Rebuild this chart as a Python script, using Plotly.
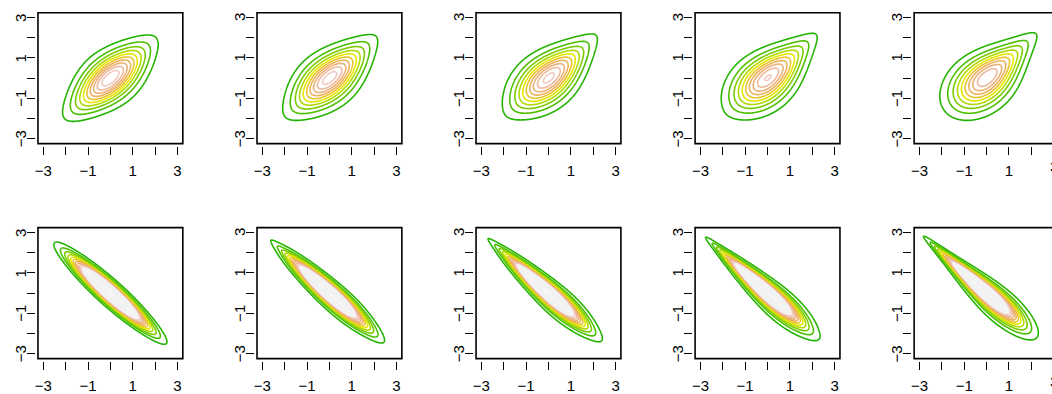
import math
import numpy as np
import plotly.graph_objects as go

# ---------------- data ----------------
# each panel: mixture of a t copula and a Gumbel copula, standard normal margins
# weight of the Gumbel part grows from left to right; bottom row is x-reflected
gumbel_weight = [0.0, 0.3, 0.55, 0.8, 1.0]
t_rho = [0.60, 0.94]           # top row, bottom row (bottom row reflected -> negative)
t_nu = [6, 30]
gumbel_theta = [1.55, 3.8]
reflect_rows = [False, True]

level_start, level_end, level_step = 0.02, 0.50, 0.02
terrain = ["#00A600", "#24B300", "#4CBF00", "#7ACC00", "#ADD900", "#E6E600",
           "#E8C32E", "#EBB25E", "#ECB176", "#EEB99F", "#F0C9C0", "#F2F2F2"]

tick_vals = [-3, -2, -1, 0, 1, 2, 3]
tick_text = ["\u22123", "", "\u22121", "", "1", "", "3"]
ylab_vals = [-3, -1, 1, 3]
ylab_text = ["\u22123", "\u22121", "1", "3"]

# ---------------- density helpers ----------------
_erfc = np.vectorize(math.erfc)


def Phi(t):
    return 0.5 * _erfc(-t / math.sqrt(2.0))


def phi(t):
    return np.exp(-0.5 * t * t) / math.sqrt(2 * math.pi)


def t_cdf_even(t, nu):
    x = t / np.sqrt(nu + t * t)
    s = np.zeros_like(t)
    for j in range(nu // 2):
        coef = math.factorial(2 * j) / (4 ** j * math.factorial(j) ** 2)
        s = s + coef * (1 - x * x) ** j
    return 0.5 + 0.5 * x * s


def t_pdf(t, nu):
    c = math.gamma((nu + 1) / 2) / (math.gamma(nu / 2) * math.sqrt(nu * math.pi))
    return c * (1 + t * t / nu) ** (-(nu + 1) / 2)


def t_copula(u, v, rho, nu):
    tg = np.linspace(-40, 40, 400001)
    Fg = t_cdf_even(tg, nu)
    a = np.interp(u, Fg, tg)
    b = np.interp(v, Fg, tg)
    q = (a * a - 2 * rho * a * b + b * b) / (1 - rho * rho)
    c2 = math.gamma((nu + 2) / 2) / (math.gamma(nu / 2) * nu * math.pi * math.sqrt(1 - rho * rho))
    f2 = c2 * (1 + q / nu) ** (-(nu + 2) / 2)
    return f2 / (t_pdf(a, nu) * t_pdf(b, nu))


def gumbel_copula(u, v, th):
    lu, lv = -np.log(u), -np.log(v)
    A = lu ** th + lv ** th
    C = np.exp(-A ** (1.0 / th))
    return C / (u * v) * (lu * lv) ** (th - 1) * A ** (-2 + 2.0 / th) * (1 + (th - 1) * A ** (-1.0 / th))


grid = np.linspace(-3.4, 3.4, 341)
GX, GY = np.meshgrid(grid, grid)

span = level_end - level_start
cscale = []
for k in range(11):
    lev = level_start + k * level_step
    cscale.append([(lev - level_start) / span, terrain[k + 1]])
cscale.append([1.0, terrain[-1]])

# ---------------- layout geometry ----------------
W, H = 1052, 394
box_left0, box_w, col_step = 37.0, 145.0, 219.25
row_box_top = [13.0, 233.0]
box_h = 134.0
gap = 2.0
box_half = 3.24
xpu = box_w / (2 * box_half)
ypu = box_h / (2 * box_half)
FONT = "Liberation Sans, Arial, Helvetica, sans-serif"
FS = 15

fig = go.Figure()
layout = dict(width=W, height=H, margin=dict(l=0, r=0, t=0, b=0),
              paper_bgcolor="white", plot_bgcolor="white", showlegend=False,
              font=dict(family=FONT, size=FS, color="black"))
shapes = []
annotations = []

idx = 0
for row in range(2):
    X = -GX if reflect_rows[row] else GX
    U, V = Phi(X), Phi(GY)
    base = phi(X) * phi(GY)
    with np.errstate(all="ignore"):
        ct = t_copula(U, V, t_rho[row], t_nu[row])
        cg = gumbel_copula(U, V, gumbel_theta[row])
    ct = np.nan_to_num(ct)
    cg = np.nan_to_num(cg)
    for col in range(5):
        idx += 1
        w = gumbel_weight[col]
        Z = ((1 - w) * ct + w * cg) * base
        xa = "x" if idx == 1 else f"x{idx}"
        ya = "y" if idx == 1 else f"y{idx}"
        fig.add_trace(go.Contour(
            x=grid, y=grid, z=Z, xaxis=xa, yaxis=ya,
            autocontour=False,
            contours=dict(start=level_start, end=level_end, size=level_step,
                          coloring="lines", showlabels=False),
            colorscale=cscale, showscale=False,
            line=dict(width=1.6), hoverinfo="skip"))

        box_l = box_left0 + col * col_step
        left_px = box_l - gap
        right_px = box_l + box_w + gap
        r0 = -box_half - gap / xpu
        r1 = box_half + gap / xpu
        if right_px > W:
            r1 = r0 + (W - left_px) / xpu
            right_px = W
        top_px = row_box_top[row] - gap
        bot_px = row_box_top[row] + box_h + gap
        yr = box_half + gap / ypu

        axis_common = dict(showgrid=False, zeroline=False, showline=False,
                           ticks="outside", ticklen=8, tickwidth=1.2, tickcolor="black",
                           tickmode="array", tickvals=tick_vals, fixedrange=True)
        layout["xaxis" if idx == 1 else f"xaxis{idx}"] = dict(
            axis_common, domain=[left_px / W, right_px / W], range=[r0, r1],
            anchor=ya, ticktext=tick_text, ticklabelstandoff=3,
            tickfont=dict(family=FONT, size=FS, color="black"))
        layout["yaxis" if idx == 1 else f"yaxis{idx}"] = dict(
            axis_common, domain=[1 - bot_px / H, 1 - top_px / H], range=[-yr, yr],
            anchor=xa, showticklabels=False)

        shapes.append(dict(type="rect", xref=xa, yref=ya,
                           x0=-box_half, x1=box_half, y0=-box_half, y1=box_half,
                           line=dict(color="black", width=1.6), layer="above"))

        for val, txt in zip(ylab_vals, ylab_text):
            annotations.append(dict(xref="paper", yref=ya, x=(box_l - 17.5) / W, y=val,
                                    text=txt, showarrow=False, textangle=-90,
                                    xanchor="center", yanchor="middle",
                                    font=dict(family=FONT, size=FS, color="black")))

        if col == 4:
            x3 = box_l + (3 + box_half) * xpu
            annotations.append(dict(xref="paper", yref="paper", x=x3 / W,
                                    y=1 - (bot_px + 8 + 3) / H, text="3", showarrow=False,
                                    xanchor="center", yanchor="top",
                                    font=dict(family=FONT, size=FS, color="black")))

layout["shapes"] = shapes
layout["annotations"] = annotations
fig.update_layout(**layout)
fig.write_html("out.html")
